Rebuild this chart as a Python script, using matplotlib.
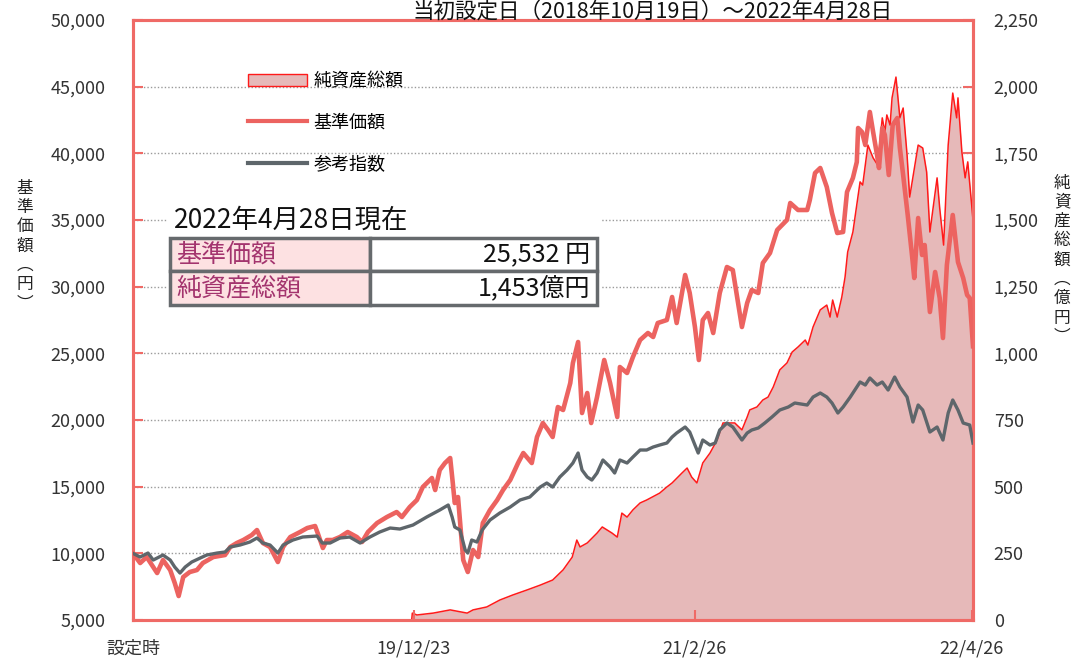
import numpy as np
import pandas as pd
import matplotlib
matplotlib.use('Agg')
import matplotlib.pyplot as plt
from matplotlib.patches import Patch, Rectangle
from matplotlib.lines import Line2D
from matplotlib.ticker import FuncFormatter

plt.rcParams['font.family'] = ['Noto Sans CJK JP', 'DejaVu Sans']

launch = pd.Timestamp('2018-10-19')
last_day = pd.Timestamp('2022-04-28')

# 基準価額 (円), x = days since launch
nav_days = [0, 11, 21, 37, 46, 57, 64, 70, 77, 87, 98, 107, 123, 141, 149, 159, 169, 182, 190, 199,
            210, 222, 230, 241, 256, 267, 279, 283, 291, 297, 306, 317, 329, 343, 351, 360, 374, 389, 404, 412,
            424, 435, 444, 458, 463, 470, 478, 486, 490, 493, 498, 506, 513, 521, 529, 536, 547, 558, 567, 578,
            590, 598, 611, 619, 628, 636, 643, 651, 659, 670, 674, 682, 688, 696, 702, 711, 722, 731, 742, 746,
            757, 766, 777, 789, 797, 804, 818, 826, 833, 846, 853, 861, 867, 873, 881, 889, 899, 910, 919, 933,
            941, 948, 958, 965, 976, 987, 1002, 1007, 1019, 1033, 1037, 1045, 1053, 1063, 1071, 1079, 1088, 1094, 1103, 1109,
            1111, 1117, 1122, 1129, 1134, 1140, 1143, 1148, 1152, 1158, 1164, 1171, 1175, 1180, 1187, 1194, 1197, 1203, 1209, 1213,
            1221, 1229, 1236, 1241, 1247, 1256, 1264, 1272, 1278, 1282, 1287]
nav_values = [10000, 9275, 9725, 8525, 9500, 8750, 7775, 6800, 8225, 8600, 8750, 9275, 9725, 9875, 10475, 10775, 11000, 11375, 11750, 10775,
              10475, 9350, 10475, 11225, 11600, 11900, 12050, 11525, 10400, 11000, 11000, 11225, 11600, 11225, 10850, 11600, 12275, 12725, 13100, 12725,
              13475, 14000, 14975, 15650, 14750, 16250, 16775, 17150, 15275, 13775, 14225, 9500, 8600, 10250, 9725, 12275, 13250, 14000, 14750, 15500,
              16775, 17525, 16775, 18725, 19775, 19250, 18725, 20975, 20750, 22775, 24275, 25850, 20525, 22025, 19775, 21725, 24500, 22775, 20225, 23975,
              23525, 24725, 26000, 26525, 26225, 27275, 27500, 29225, 27275, 30875, 29525, 26975, 24500, 27500, 28025, 26525, 29525, 31475, 31250, 26975,
              28775, 29750, 29525, 31775, 32525, 34250, 35000, 36275, 35750, 35750, 36500, 38525, 38900, 37475, 35525, 34025, 34100, 37100, 38150, 39350,
              41900, 41600, 40625, 43100, 41600, 39875, 38900, 41900, 41375, 38375, 42125, 42650, 40400, 38375, 35375, 32150, 30650, 35150, 32375, 33125,
              28100, 31100, 29150, 26150, 31625, 35375, 31850, 30650, 29375, 29150, 25532]

# 参考指数
idx_days = [0, 11, 23, 31, 46, 57, 64, 72, 80, 90, 103, 113, 129, 141, 149, 164, 179, 190, 199, 210,
            222, 230, 245, 260, 282, 290, 302, 317, 332, 348, 363, 378, 394, 409, 429, 450, 470, 483, 489, 493,
            501, 509, 513, 519, 527, 535, 547, 562, 578, 593, 608, 624, 634, 643, 654, 665, 674, 682, 688, 696,
            703, 711, 720, 731, 738, 746, 757, 766, 777, 787, 797, 807, 818, 826, 833, 846, 853, 861, 866, 873,
            884, 892, 899, 910, 919, 933, 941, 948, 958, 968, 979, 991, 1004, 1014, 1033, 1042, 1053, 1063, 1071, 1080,
            1088, 1099, 1114, 1122, 1129, 1140, 1148, 1157, 1167, 1175, 1186, 1195, 1203, 1210, 1221, 1232, 1241, 1249, 1256, 1264,
            1272, 1282, 1287]
idx_values = [10000, 9725, 10025, 9500, 9875, 9500, 8975, 8525, 8975, 9350, 9650, 9875, 10025, 10100, 10475, 10625, 10850, 11150, 10775, 10625,
              10025, 10625, 11000, 11225, 11300, 10775, 10775, 11150, 11225, 10775, 11225, 11600, 11900, 11825, 12125, 12725, 13250, 13625, 12725, 11975,
              11750, 10250, 10025, 11000, 10850, 11750, 12500, 13025, 13475, 14000, 14225, 14975, 15275, 14975, 15725, 16250, 16775, 17525, 16250, 15725,
              15500, 16025, 17000, 16475, 16025, 17000, 16775, 17225, 17750, 17750, 17975, 18125, 18275, 18725, 19025, 19475, 19100, 18125, 17525, 18500,
              18125, 18275, 19250, 19775, 19475, 18500, 19025, 19250, 19400, 19775, 20225, 20750, 20975, 21275, 21125, 21725, 22025, 21725, 21275, 20525,
              20975, 21725, 22850, 22625, 23150, 22625, 22850, 22250, 23225, 22475, 21725, 19850, 21125, 20750, 19100, 19475, 18500, 20525, 21500, 20750,
              19775, 19625, 18275]

# 純資産総額 (億円)
aum_days = [427, 428, 435, 460, 486, 512, 521, 542, 562, 582, 604, 624, 643, 659, 673, 680, 685, 696, 711, 719,
            734, 742, 749, 757, 766, 777, 787, 807, 818, 826, 841, 849, 856, 864, 873, 884, 895, 904, 922, 933,
            941, 945, 956, 965, 973, 981, 991, 1002, 1010, 1019, 1030, 1034, 1042, 1053, 1063, 1068, 1072, 1079, 1086, 1091,
            1095, 1103, 1114, 1118, 1126, 1134, 1141, 1148, 1152, 1155, 1160, 1163, 1169, 1175, 1180, 1186, 1190, 1203, 1210, 1216,
            1221, 1232, 1236, 1242, 1249, 1256, 1262, 1264, 1270, 1275, 1279, 1285, 1287]
aum_values = [0, 26, 19, 26, 38, 26, 38, 49, 75, 94, 113, 131, 150, 188, 236, 300, 274, 289, 326, 349,
              326, 311, 401, 386, 413, 439, 450, 476, 499, 514, 551, 570, 536, 514, 589, 626, 675, 739, 739, 713,
              761, 788, 799, 825, 836, 874, 938, 964, 1005, 1024, 1050, 1031, 1099, 1163, 1181, 1136, 1200, 1136, 1211, 1286,
              1380, 1455, 1643, 1631, 1781, 1733, 1706, 1883, 1830, 1894, 1856, 1958, 2036, 1883, 1920, 1744, 1586, 1781, 1770, 1680,
              1455, 1658, 1545, 1406, 1781, 1976, 1883, 1958, 1755, 1658, 1718, 1556, 1500]

nav_latest = 25532
aum_latest = 1453

tick_dates = ['2018-10-19', '2019-12-23', '2021-02-26', '2022-04-26']
tick_labels = ['設定時', '19/12/23', '21/2/26', '22/4/26']

nav_dates = launch + pd.to_timedelta(nav_days, unit='D')
idx_dates = launch + pd.to_timedelta(idx_days, unit='D')
aum_dates = launch + pd.to_timedelta(aum_days, unit='D')

frame_red = '#ef6a66'
nav_red = '#ec6360'
idx_gray = '#5e666b'
aum_fill = '#e6b9b9'

fig = plt.figure(figsize=(10.75, 6.62), dpi=100)
ax = fig.add_axes([0.1237, 0.0634, 0.7814, 0.9064])
ax2 = ax.twinx()
ax.set_zorder(ax2.get_zorder() + 1)
ax.patch.set_visible(False)

# net assets area on the right axis, behind the lines
ax2.fill_between(aum_dates, aum_values, color=aum_fill, lw=0, zorder=2)
ax2.plot(aum_dates, aum_values, color='#ff1a1a', lw=1.1, zorder=3)
ax2.set_ylim(0, 2250)
ax2.set_yticks(np.arange(0, 2251, 250))
ax2.yaxis.grid(True, linestyle=(0, (1, 1.5)), color='#9a9a9a', lw=1)
ax2.set_axisbelow(True)

ax.plot(nav_dates, nav_values, color=nav_red, lw=3.3, solid_joinstyle='round', zorder=3)
ax.plot(idx_dates, idx_values, color=idx_gray, lw=2.4, solid_joinstyle='round', zorder=4)
ax.set_ylim(5000, 50000)
ax.set_yticks(np.arange(5000, 50001, 5000))
ax.set_xlim(launch, last_day)
ax.set_xticks(pd.to_datetime(tick_dates))
ax.set_xticklabels(tick_labels)

comma = FuncFormatter(lambda v, p: f'{int(v):,}')
ax.yaxis.set_major_formatter(comma)
ax2.yaxis.set_major_formatter(comma)

for a in (ax, ax2):
    for s in a.spines.values():
        s.set_color(frame_red)
        s.set_linewidth(2.2)

ax.tick_params(axis='y', direction='in', length=7, width=1.5, color=frame_red,
               pad=20, labelsize=13, labelcolor='#333333')
ax2.tick_params(axis='y', direction='in', length=7, width=1.5, color=frame_red,
                pad=15, labelsize=13, labelcolor='#333333')
ax.tick_params(axis='x', direction='in', length=7, width=1.5, color=frame_red,
               pad=14, labelsize=13, labelcolor='#333333')

# legend
handles = [Patch(facecolor=aum_fill, edgecolor='#ff1a1a', lw=1),
           Line2D([], [], color=nav_red, lw=3),
           Line2D([], [], color=idx_gray, lw=3)]
ax.legend(handles, ['純資産総額', '基準価額', '参考指数'], loc='upper left',
          bbox_to_anchor=(0.117, 0.94), frameon=False, fontsize=13,
          handlelength=3.3, handleheight=0.7, labelspacing=1.3, handletextpad=0.35)

# latest values box
ax.add_patch(Rectangle((0.042, 0.52), 0.515, 0.18, transform=ax.transAxes,
                       facecolor='white', edgecolor='none', zorder=5))
ax.text(0.049, 0.667, '2022年4月28日現在', transform=ax.transAxes, fontsize=19,
        va='center', ha='left', color='#111111', zorder=6)
tbl = ax.table(cellText=[['基準価額', f'{nav_latest:,} 円'],
                         ['純資産総額', f'{aum_latest:,}億円']],
               colWidths=[0.468, 0.532], bbox=[0.044, 0.525, 0.508, 0.112],
               cellLoc='left', zorder=7)
tbl.auto_set_font_size(False)
tbl.set_fontsize(18)
for (r, c), cell in tbl.get_celld().items():
    cell.set_edgecolor('#666a6d')
    cell.set_linewidth(2.5)
    cell.PAD = 0.03
    if c == 0:
        cell.set_facecolor('#fde1e2')
        cell.get_text().set_color('#a3346e')
    else:
        cell.set_facecolor('white')
        cell.get_text().set_ha('right')
        cell.get_text().set_color('#111111')

# axis titles, stacked vertically
fig.text(0.0233, 0.628, '\n'.join('基準価額︵円︶'), ha='center', va='center',
         fontsize=12, linespacing=1.18, color='#222222')
fig.text(0.988, 0.607, '\n'.join('純資産総額︵億円︶'), ha='center', va='center',
         fontsize=12, linespacing=1.18, color='#222222')

fig.text(0.607, 0.999, '当初設定日（2018年10月19日）～2022年4月28日', ha='center',
         va='top', fontsize=15.5, color='#111111')

fig.savefig('out.png', dpi=100)
